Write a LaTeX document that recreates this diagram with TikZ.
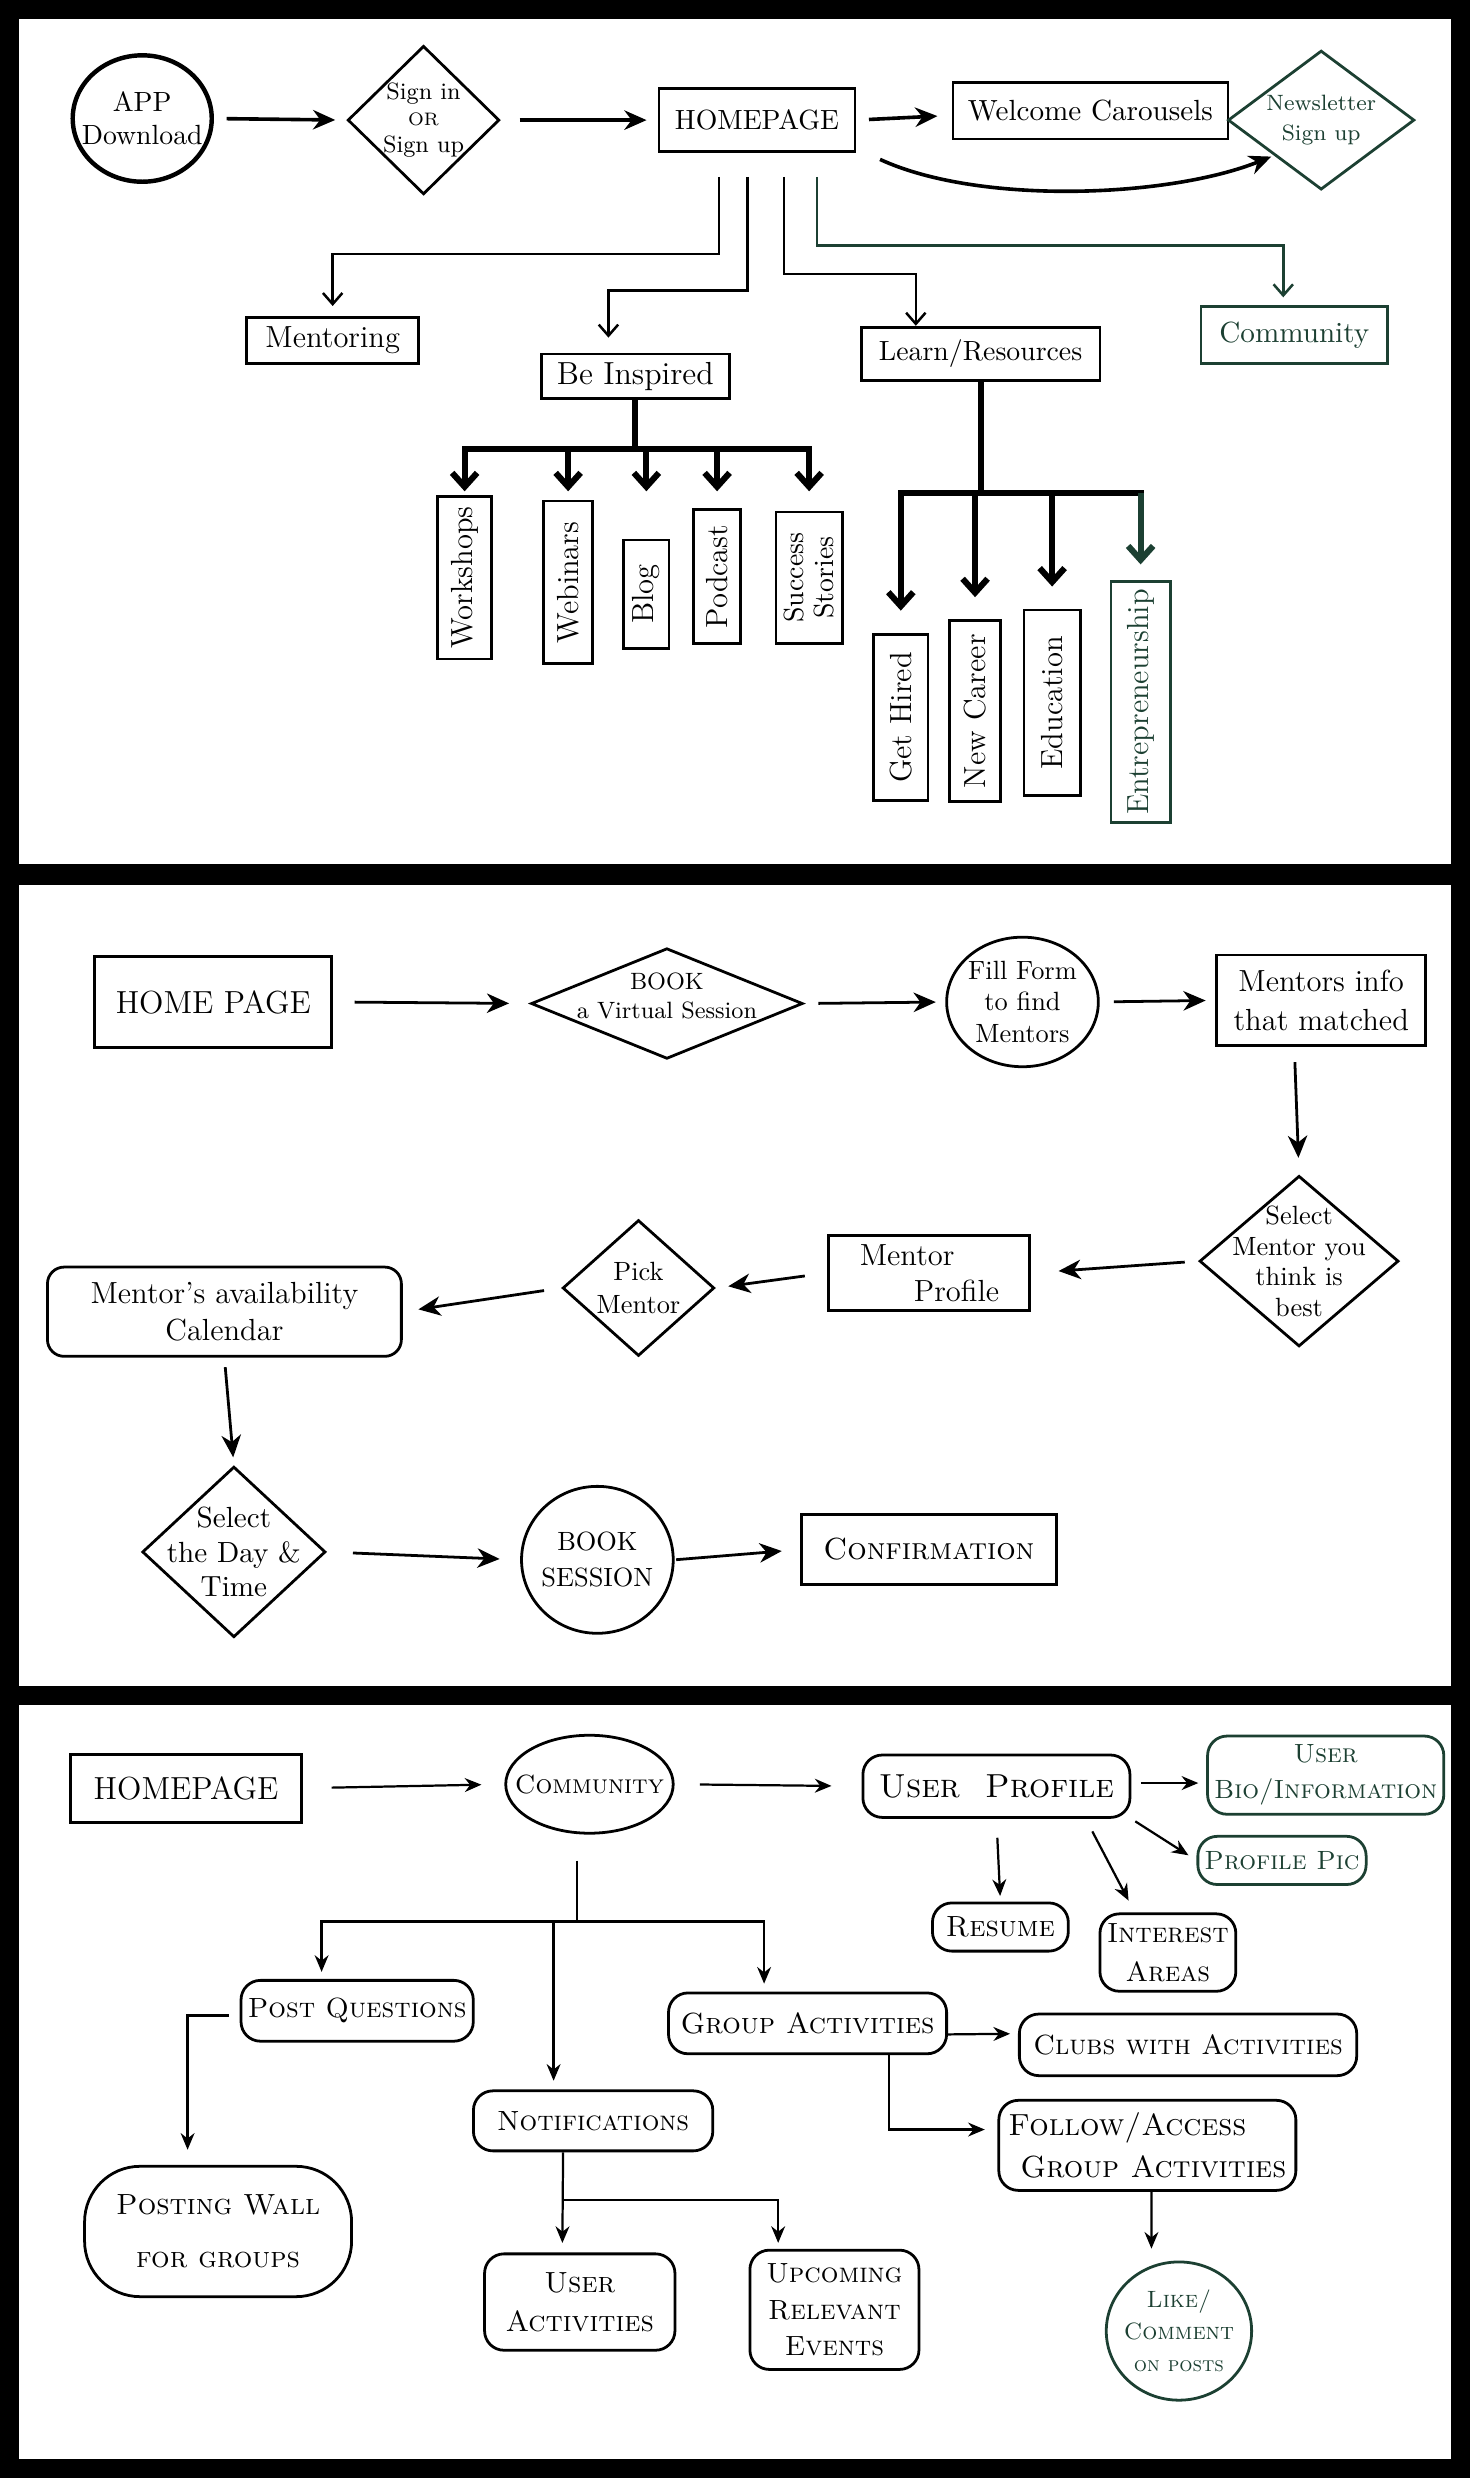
\documentclass[tikz,border=0pt]{standalone}
\usepackage{tikz}
\usetikzlibrary{arrows.meta}
\usetikzlibrary{shapes.geometric}

\definecolor{inkgreen}{RGB}{28,64,50}
\newcommand{\fsz}[2]{\fontsize{#1}{#2}\selectfont}
\newcommand{\scf}[2]{\fontsize{#1}{#2}\selectfont\scshape}

\tikzset{
  box/.style={draw, line width=1pt, rectangle, inner sep=0pt, align=center},
  vbox/.style={box, rotate=90, font=\fsz{11}{12}},
  rbox/.style={box, rounded corners=7pt},
  oval/.style={draw, line width=1pt, ellipse, inner sep=0pt},
  dia/.style={draw, line width=1pt, diamond, inner sep=0pt},
  lbl/.style={align=center, inner sep=0pt},
  gap/.style 2 args={shorten <=#1, shorten >=#2},
  arr1/.style={line width=1.3pt, -{Stealth[length=8pt,width=7pt]}},
  arr2/.style={line width=1pt, -{Stealth[length=8pt,width=7pt,inset=2.5pt]}},
  barb/.style={line width=0.9pt, -{Straight Barb[length=4pt,width=7pt]}},
  barb3/.style={line width=0.8pt, -{Stealth[length=6pt,width=5pt]}},
  tree/.style={line width=2.2pt},
  treearr/.style={tree, -{Straight Barb[length=5pt,width=9pt]}}
}

\begin{document}
\begin{tikzpicture}[x=0.02cm,y=-0.02cm]
  % three sheets on black
  \useasboundingbox (0,0) rectangle (930,1568);
  \fill[black] (0,0) rectangle (930,1568);
  \fill[white] (12,12) rectangle (918,547);
  \fill[white] (12,560) rectangle (918,1067);
  \fill[white] (12,1079) rectangle (918,1556);

  % ---- sheet 1: site map
  \node[oval, line width=1.6pt, minimum width=1.76cm, minimum height=1.6cm,
        label={[lbl,font=\fsz{10}{12}]center:APP\\Download}] (app) at (90,75) {};
  \node[dia, minimum width=1.92cm, minimum height=1.88cm,
        label={[lbl,font=\fsz{8.5}{9.5}]center:Sign in\\{\fsz{6.5}{7}OR}\\Sign up}] (sign) at (268,76) {};
  \node[box, minimum width=2.48cm, minimum height=0.8cm, font=\fsz{10}{12}] (home1) at (479,76) {HOMEPAGE};
  \node[box, minimum width=3.48cm, minimum height=0.72cm, font=\fsz{10.5}{12}] (welcome) at (690,70) {Welcome Carousels};
  \node[dia, draw=inkgreen, minimum width=2.36cm, minimum height=1.76cm,
        label={[lbl,text=inkgreen,font=\fsz{8}{10.5}]center:Newsletter\\Sign up}] (news) at (836,76) {};

  \node[box, minimum width=2.18cm, minimum height=0.58cm, font=\fsz{11}{12}] (ment) at (210.5,215.5) {Mentoring};
  \node[box, minimum width=2.38cm, minimum height=0.56cm, font=\fsz{11.5}{12}] (insp) at (402,238) {Be Inspired};
  \node[box, minimum width=3.02cm, minimum height=0.68cm, font=\fsz{10}{12}] (learn) at (620.5,224) {Learn/Resources};
  \node[box, draw=inkgreen, text=inkgreen, minimum width=2.36cm, minimum height=0.72cm, font=\fsz{10.5}{12}] (comm1) at (819,212) {Community};

  \node[vbox, minimum width=2.06cm, minimum height=0.68cm] (works) at (294,365.5) {Workshops};
  \node[vbox, minimum width=2.06cm, minimum height=0.62cm] (webin) at (359.5,368.5) {Webinars};
  \node[vbox, minimum width=1.37cm, minimum height=0.57cm] (blog) at (409,376) {Blog};
  \node[vbox, minimum width=1.69cm, minimum height=0.59cm] (podc) at (453.75,364.75) {Podcast};
  \node[vbox, minimum width=1.66cm, minimum height=0.84cm, font=\fsz{10}{11}] (succ) at (512,365.5) {Success\\Stories};
  \node[vbox, minimum width=2.11cm, minimum height=0.69cm] (hired) at (570,454) {Get Hired};
  \node[vbox, minimum width=2.29cm, minimum height=0.64cm] (career) at (617,450) {New Career};
  \node[vbox, minimum width=2.35cm, minimum height=0.71cm] (educ) at (665.75,444.75) {Education};
  \node[vbox, draw=inkgreen, text=inkgreen, minimum width=3.05cm, minimum height=0.75cm] (entre) at (721.75,444.25) {Entrepreneurship};

  \draw[arr1, gap={0.16cm}{0.14cm}] (app.east) -- (sign.west);
  \draw[arr1, gap={0.24cm}{0.14cm}] (sign.east) -- (home1.west);
  \draw[arr1, gap={0.16cm}{0.18cm}] (home1.east) -- ([shift={(0,3)}]welcome.west);
  \draw[arr1, shorten >=1pt] ([shift={(15,4)}]home1.south east) .. controls (620,130) and (740,125) .. (news.south west);

  \draw[barb, shorten >=0.13cm] ([shift={(-24,15)}]home1.south) -- ++(0,49) -| (ment.north);
  \draw[barb, shorten >=0.19cm] ([shift={(-6,15)}]home1.south) -- ++(0,72) -| ([shift={(-17,0)}]insp.north);
  \draw[barb] ([shift={(17,15)}]home1.south) -- ++(0,61.5) -| ([shift={(-41,0)}]learn.north);
  \draw[barb, inkgreen, shorten >=0.1cm] ([shift={(38,15)}]home1.south) -- ++(0,43.5) -| ([shift={(-7,0)}]comm1.north);

  % be inspired tree
  \draw[tree] (insp.south) -- ++(0,31.5) coordinate (ib);
  \coordinate (itip) at ([shift={(0,26.5)}]ib);
  \draw[tree, line cap=rect] (works.east |- ib) -- (succ.east |- ib);
  \foreach \b in {works,webin,blog,podc,succ}
    \draw[treearr] (\b.east |- ib) -- (\b.east |- itip);

  % learn tree
  \draw[tree] (learn.south) -- ++(0,70) coordinate (lb);
  \draw[tree, line cap=rect] (hired.east |- lb) -- (entre.east |- lb);
  \foreach \b in {hired,career,educ}
    \draw[treearr, shorten >=0.28cm] (\b.east |- lb) -- (\b.east);
  \draw[treearr, inkgreen, shorten >=0.2cm] (entre.east |- lb) -- (entre.east);

  % ---- sheet 2: booking a session
  \node[box, minimum width=3cm, minimum height=1.16cm, font=\fsz{11.5}{13}] (home2) at (135,634) {HOME PAGE};
  \node[dia, minimum width=3.44cm, minimum height=1.4cm,
        label={[lbl,yshift=0.1cm,font=\fsz{8.5}{10.5}]center:BOOK\\a Virtual Session}] (book) at (422,635) {};
  \node[oval, minimum width=1.92cm, minimum height=1.64cm,
        label={[lbl,font=\fsz{9.5}{11.5}]center:Fill Form\\to find\\Mentors}] (fill) at (647,634) {};
  \node[box, minimum width=2.65cm, minimum height=1.15cm, font=\fsz{11}{14}] (info) at (836,633) {Mentors info\\that matched};
  \node[dia, minimum width=2.52cm, minimum height=2.16cm,
        label={[lbl,font=\fsz{9.5}{11}]center:Select\\Mentor you\\think is\\best}] (select) at (822,798) {};
  \node[box, minimum width=2.55cm, minimum height=0.94cm, font=\fsz{11}{13}] (prof) at (587.75,805.5) {Mentor\hspace*{0.55cm}\\\hspace*{0.7cm}Profile};
  \node[dia, minimum width=1.92cm, minimum height=1.72cm,
        label={[lbl,font=\fsz{9.5}{12}]center:Pick\\Mentor}] (pick) at (404,815) {};
  \node[box, rounded corners=6pt, minimum width=4.48cm, minimum height=1.13cm, font=\fsz{11}{13}] (cal) at (142,830) {Mentor's availability\\Calendar};
  \node[dia, minimum width=2.32cm, minimum height=2.16cm,
        label={[lbl,font=\fsz{10.5}{12.5}]center:Select\\the Day \&\\Time}] (day) at (148,982) {};
  \node[oval, minimum width=1.92cm, minimum height=1.86cm,
        label={[lbl,font=\fsz{9.5}{13}]center:BOOK\\SESSION}] (bsess) at (378,987) {};
  \node[box, minimum width=3.23cm, minimum height=0.88cm, font=\fsz{11}{13}] (conf) at (587.75,980.5) {\textsc{Confirmation}};

  \draw[arr2, gap={0.27cm}{0.26cm}] (home2.east) -- (book.west);
  \draw[arr2, gap={0.18cm}{0.12cm}] (book.east) -- (fill.west);
  \draw[arr2, gap={0.18cm}{0.12cm}] (fill.east) -- (info.west);
  \draw[arr2, gap={0.19cm}{0.21cm}] ([shift={(-17,0)}]info.south) -- (select.north);
  \draw[arr2, gap={0.17cm}{0.35cm}] (select.west) -- (prof.east);
  \draw[arr2, gap={0.28cm}{0.16cm}] (prof.west) -- (pick.east);
  \draw[arr2, gap={0.22cm}{0.2cm}] (pick.west) -- (cal.east);
  \draw[arr2, gap={0.12cm}{0.1cm}] (cal.south) -- (day.north);
  \draw[arr2, gap={0.33cm}{0.26cm}] (day.east) -- (bsess.west);
  \draw[arr2, gap={0.02cm}{0.23cm}] (bsess.east) -- (conf.west);

  % ---- sheet 3: community
  \node[box, minimum width=2.93cm, minimum height=0.86cm, font=\fsz{11.5}{13}] (home3) at (117.75,1131.5) {HOMEPAGE};
  \node[oval, minimum width=2.12cm, minimum height=1.24cm,
        label={[lbl,font=\scf{9.5}{11}]center:Community}] (comm3) at (373,1129) {};
  \node[rbox, minimum width=3.38cm, minimum height=0.79cm, font=\scf{12}{13}] (uprof) at (630.5,1130.25) {User\ \ Profile};
  \node[rbox, draw=inkgreen, text=inkgreen, minimum width=2.99cm, minimum height=0.99cm, font=\scf{9.5}{13}] (bio) at (838.85,1123.25) {User\\Bio/Information};
  \node[rbox, draw=inkgreen, text=inkgreen, minimum width=2.13cm, minimum height=0.61cm, font=\scf{9.5}{11}] (ppic) at (811.2,1177.2) {Profile Pic};
  \node[rbox, minimum width=1.72cm, minimum height=0.61cm, font=\scf{10.5}{12}] (resume) at (633,1219.35) {Resume};
  \node[rbox, minimum width=1.72cm, minimum height=0.98cm, font=\scf{10}{14}] (inter) at (739,1235.5) {Interest\\Areas};
  \node[rbox, minimum width=2.94cm, minimum height=0.77cm, font=\scf{10}{12}] (postq) at (226,1272.35) {Post Questions};
  \node[rbox, minimum width=3.52cm, minimum height=0.77cm, font=\scf{10.5}{12}] (group) at (511,1280.3) {Group Activities};
  \node[rbox, minimum width=3.03cm, minimum height=0.76cm, font=\scf{10}{12}] (notif) at (375.3,1342) {Notifications};
  \node[rbox, rounded corners=20pt, minimum width=3.38cm, minimum height=1.65cm, font=\scf{10.5}{19}] (wall) at (138,1412) {Posting Wall\\for groups};
  \node[rbox, minimum width=4.27cm, minimum height=0.78cm, font=\scf{10}{12}] (clubs) at (751.75,1293.9) {Clubs with Activities};
  \node[rbox, minimum width=3.76cm, minimum height=1.14cm, font=\scf{11}{15}, align=left] (follow) at (726,1357.5) {Follow/Access\\\hspace*{0.15cm}Group Activities};
  \node[oval, draw=inkgreen, minimum width=1.84cm, minimum height=1.75cm,
        label={[lbl,text=inkgreen,font=\scf{8.5}{11.5}]center:Like/\\Comment\\{\fsz{7.5}{9}on posts}}] (like) at (746,1475) {};
  \node[rbox, minimum width=2.41cm, minimum height=1.22cm, font=\scf{10.5}{14}] (uact) at (366.85,1456.65) {User\\Activities};
  \node[rbox, minimum width=2.14cm, minimum height=1.51cm, font=\scf{10}{13}] (events) at (528,1461.55) {Upcoming\\Relevant\\Events};

  \draw[barb3, gap={0.36cm}{0.29cm}] (home3.east) -- (comm3.west);
  \draw[barb3, gap={0.32cm}{0.38cm}] (comm3.east) -- (uprof.west);
  \draw[barb3, gap={0.12cm}{0.1cm}] ([shift={(0,-2)}]uprof.east) -- ([shift={(0,5)}]bio.west);
  \draw[barb3, gap={0.06cm}{0.12cm}] (uprof.south east) -- (ppic.west);
  \draw[barb3, gap={0.24cm}{0.07cm}] (uprof.south) -- (resume.north);
  \draw[barb3, shorten <=0.18cm] ([shift={(56.5,0)}]uprof.south) -- ([shift={(19,-7.5)}]inter.north west);

  \draw[line width=0.8pt] ([shift={(-8,16.5)}]comm3.south) -- ++(0,38.5) coordinate (cb);
  \draw[barb3] (cb) -| ([shift={(-22.5,-4.5)}]postq.north);
  \draw[barb3] (cb) -| ([shift={(-27.5,-5)}]group.north);
  \coordinate (nt) at ([shift={(-25,-5.5)}]notif.north);
  \draw[barb3] (nt |- cb) -- (nt);

  \draw[barb3] ([shift={(-7,3)}]postq.west) -| ([shift={(-19.3,-9.6)}]wall.north);
  \draw[barb3] ([shift={(0,7)}]group.east) -- ([shift={(-5,-7)}]clubs.west);
  \draw[barb3] ([shift={(51.4,0)}]group.south) |- ([shift={(-8,-10)}]follow.west);
  \draw[barb3, shorten >=0.15cm] ([shift={(2.6,0)}]follow.south) -- ([shift={(-17.4,0)}]like.north);

  \coordinate (ns) at ([shift={(-19,0)}]notif.south);
  \draw[barb3] (ns) -- ([shift={(-11,-6)}]uact.north);
  \coordinate (nb) at ([shift={(0,30)}]ns);
  \draw[barb3] (nb) -| ([shift={(-35.6,-3.7)}]events.north);
\end{tikzpicture}
\end{document}
